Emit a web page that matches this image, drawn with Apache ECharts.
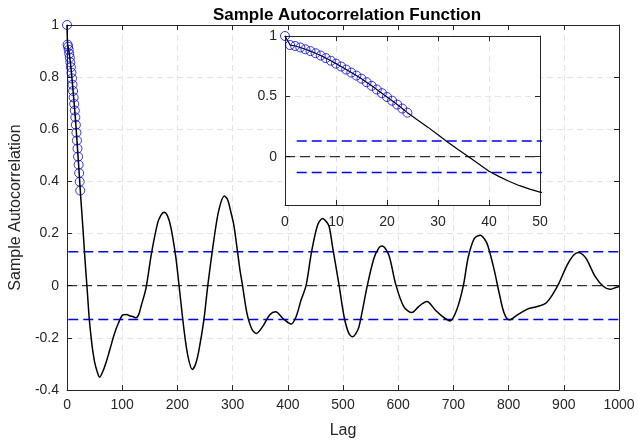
<!DOCTYPE html>
<html>
<head>
<meta charset="utf-8">
<script src="https://cdn.jsdelivr.net/npm/echarts@6/dist/echarts.min.js"></script>
<style>
  html, body { margin: 0; padding: 0; background: #fff; }
  #chart { width: 638px; height: 445px; }
</style>
</head>
<body>
<div id="chart"></div>
<script>
// sample autocorrelation (lag, value)
var acfLags = [0, 1, 2, 3, 4, 5, 6, 7, 8, 9, 10, 11, 12, 13, 14, 15, 16, 17, 18, 19, 20, 21, 22, 23, 24,
  26, 28, 30, 32, 34, 36, 38, 40, 42, 44, 46, 48, 50, 54, 59, 66, 74, 80, 86, 93,
  101, 108, 113, 120, 125, 130, 134, 143, 153, 164, 170, 176, 182, 188, 197,
  203, 212, 219, 227, 233, 239, 248, 255, 266, 275, 285, 291, 296, 302, 308, 313, 318,
  326, 335, 343, 355, 367, 378, 391, 406, 415, 424, 433, 443, 454, 463, 470, 475, 481, 493,
  502, 510, 517, 523, 529, 544, 556, 565, 571, 583, 595, 610, 625, 637, 652, 667, 680, 694,
  706, 718, 727, 738, 749, 756, 762, 774, 783, 792, 801, 816, 834, 852, 867, 879, 891,
  906, 918, 927, 935, 942, 957, 972, 984, 993, 1000];
var acfValues = [1.0, 0.925, 0.917, 0.905, 0.89, 0.875, 0.857, 0.838, 0.817, 0.795, 0.771, 0.747, 0.722, 0.697, 0.672, 0.646, 0.617, 0.587, 0.557, 0.526, 0.495, 0.464, 0.432, 0.399, 0.365,
  0.305, 0.245, 0.182, 0.118, 0.057, 0.0, -0.06, -0.12, -0.165, -0.205, -0.24, -0.268, -0.293, -0.325, -0.351, -0.323, -0.272, -0.227, -0.183, -0.144,
  -0.112, -0.11, -0.115, -0.119, -0.123, -0.11, -0.08, -0.01, 0.124, 0.239, 0.27, 0.282, 0.268, 0.226, 0.111,
  0.0, -0.17, -0.27, -0.321, -0.3, -0.247, -0.13, 0.0, 0.175, 0.29, 0.344, 0.33, 0.29, 0.235, 0.145, 0.065, 0.0,
  -0.106, -0.167, -0.183, -0.155, -0.112, -0.1, -0.125, -0.147, -0.119, -0.055, 0.0, 0.13, 0.233, 0.258, 0.245, 0.226, 0.15, 0.0,
  -0.119, -0.18, -0.196, -0.185, -0.157, 0.0, 0.105, 0.145, 0.152, 0.118, 0.009, -0.08, -0.103, -0.08, -0.061, -0.093, -0.118, -0.135,
  -0.093, 0.0, 0.111, 0.182, 0.194, 0.18, 0.156, 0.06, -0.029, -0.106, -0.131, -0.112, -0.09, -0.08, -0.068, -0.036, 0.009,
  0.079, 0.118, 0.127, 0.118, 0.099, 0.035, -0.003, -0.014, -0.008, -0.003];
var markedLags = 25;          // circles on lags 0..24
var boundLags = [2.3, 1000];  // confidence bound lines
var boundValue = 0.13;
var mainXTicks = [0, 1000, 100];
var mainYTicks = [-0.4, 1, 0.2];
var insetXTicks = [0, 50, 10];
var insetYLabels = [0, 0.5, 1];

var curve = acfLags.map(function (l, i) { return [l, acfValues[i]]; });
var circles = curve.slice(0, markedLags);
var upper = boundLags.map(function (l) { return [l, boundValue]; });
var lower = boundLags.map(function (l) { return [l, -boundValue]; });
var zero = [[0, 0], [1000, 0]];

var txt = '#262626';
var font = 'Liberation Sans, Arial, sans-serif';
var gridLine = { show: true, lineStyle: { color: '#e3e3e3', type: [6, 4], width: 1 } };
var plain = function (v) { return String(v); };

function xAx(grid, pos, t, labels, z) {
  return {
    type: 'value', gridIndex: grid, position: pos, min: t[0], max: t[1], interval: t[2], z: z,
    axisLine: { show: true, onZero: false, lineStyle: { color: txt, width: 1 } },
    axisTick: { show: true, inside: true, length: 5, lineStyle: { color: txt } },
    axisLabel: { show: labels, color: txt, fontSize: 14, fontFamily: font, margin: 8, formatter: plain },
    splitLine: labels ? gridLine : { show: false }
  };
}

var chart = echarts.init(document.getElementById('chart'));
var option = {
  animation: false,
  backgroundColor: '#fff',
  title: {
    text: 'Sample Autocorrelation Function', left: 342, top: 2, textAlign: 'center',
    textStyle: { fontSize: 17, fontWeight: 'bold', color: '#000', fontFamily: font }
  },
  grid: [
    { left: 62, right: 19, top: 25, bottom: 55 },
    { left: 285, right: 98, top: 36, bottom: 240, show: true, backgroundColor: '#fff', borderWidth: 0, z: 1 }
  ],
  xAxis: [
    Object.assign(xAx(0, 'bottom', mainXTicks, true, 0), {
      name: 'Lag', nameLocation: 'middle', nameGap: 33,
      nameTextStyle: { fontSize: 16, color: txt, fontFamily: font }
    }),
    xAx(0, 'top', mainXTicks, false, 0),
    Object.assign(xAx(1, 'bottom', insetXTicks, true, 3), { axisLabel: { color: txt, fontSize: 14, fontFamily: font, margin: 10 } }),
    xAx(1, 'top', insetXTicks, false, 3)
  ],
  yAxis: [
    Object.assign(xAx(0, 'left', mainYTicks, true, 0), {
      name: 'Sample Autocorrelation', nameLocation: 'middle', nameGap: 38,
      nameTextStyle: { fontSize: 16, color: txt, fontFamily: font }
    }),
    xAx(0, 'right', mainYTicks, false, 0),
    {
      type: 'value', gridIndex: 1, position: 'left', min: -0.4, max: 1, z: 3,
      axisLine: { show: true, onZero: false, lineStyle: { color: txt, width: 1 } },
      axisTick: { show: true, inside: true, length: 5, customValues: insetYLabels, lineStyle: { color: txt } },
      axisLabel: { color: txt, fontSize: 14, fontFamily: font, margin: 8, customValues: insetYLabels },
      splitLine: gridLine
    },
    {
      type: 'value', gridIndex: 1, position: 'right', min: -0.4, max: 1, z: 3,
      axisLine: { show: true, onZero: false, lineStyle: { color: txt, width: 1 } },
      axisTick: { show: true, inside: true, length: 5, customValues: insetYLabels, lineStyle: { color: txt } },
      axisLabel: { show: false },
      splitLine: { show: false }
    }
  ],
  series: [
    { type: 'line', data: zero, xAxisIndex: 0, yAxisIndex: 0, symbol: 'none', lineStyle: { color: '#000', width: 1, type: [10, 5] } },
    { type: 'line', data: upper, xAxisIndex: 0, yAxisIndex: 0, symbol: 'none', lineStyle: { color: '#0000ff', width: 1.5, type: [10, 5] } },
    { type: 'line', data: lower, xAxisIndex: 0, yAxisIndex: 0, symbol: 'none', lineStyle: { color: '#0000ff', width: 1.5, type: [10, 5] } },
    { type: 'line', data: curve, xAxisIndex: 0, yAxisIndex: 0, symbol: 'none', smooth: 0.3, lineStyle: { color: '#000', width: 1.5 } },
    { type: 'scatter', data: circles, xAxisIndex: 0, yAxisIndex: 0, symbolSize: 9,
      itemStyle: { color: 'transparent', borderColor: '#0000ff', borderWidth: 1 } },

    { type: 'line', data: zero, xAxisIndex: 2, yAxisIndex: 2, z: 4, symbol: 'none', lineStyle: { color: '#000', width: 1, type: [10, 5] } },
    { type: 'line', data: upper, xAxisIndex: 2, yAxisIndex: 2, z: 4, symbol: 'none', lineStyle: { color: '#0000ff', width: 1.5, type: [10, 5] } },
    { type: 'line', data: lower, xAxisIndex: 2, yAxisIndex: 2, z: 4, symbol: 'none', lineStyle: { color: '#0000ff', width: 1.5, type: [10, 5] } },
    { type: 'line', data: curve, xAxisIndex: 2, yAxisIndex: 2, z: 4, symbol: 'none', lineStyle: { color: '#000', width: 1.2 } },
    { type: 'scatter', data: circles, xAxisIndex: 2, yAxisIndex: 2, z: 5, symbolSize: 9,
      itemStyle: { color: 'transparent', borderColor: '#0000ff', borderWidth: 1 } }
  ]
};
chart.setOption(option);
</script>
</body>
</html>
